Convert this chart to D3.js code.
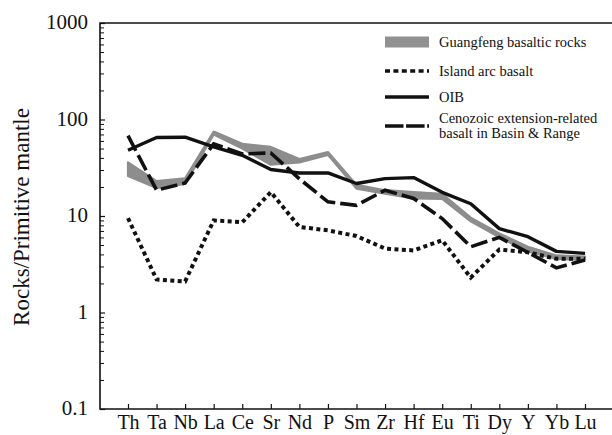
<!DOCTYPE html>
<html>
<head>
<meta charset="utf-8">
<script src="https://cdn.jsdelivr.net/npm/d3@7"></script>
<style>
  html, body { margin: 0; padding: 0; background: #fff; }
  svg { display: block; }
</style>
</head>
<body>
<svg id="chart" width="612" height="435" font-family="'Liberation Serif', 'Times New Roman', serif"></svg>
<script>
// Primitive-mantle normalised trace element patterns
const elements = ["Th","Ta","Nb","La","Ce","Sr","Nd","P","Sm","Zr","Hf","Eu","Ti","Dy","Y","Yb","Lu"];

// Guangfeng basaltic rocks: range of the sample group (upper / lower envelope)
const guangfengUpper = [36, 23, 24.5, 75, 56, 52, 39, 46, 21, 18.5, 17.7, 17, 9.6, 6.6, 4.8, 3.9, 3.8];
const guangfengLower = [26, 19.5, 21.5, 70, 50, 34, 36, 43, 19.2, 17, 15.2, 15, 8.8, 6.0, 4.3, 3.6, 3.5];

const islandArc = [9.5, 2.2, 2.1, 9.0, 8.6, 17.7, 7.7, 7.1, 6.2, 4.6, 4.4, 5.6, 2.3, 4.5, 4.2, 3.6, 3.6];
const oib       = [48, 65, 65.5, 52, 42.6, 30.3, 27.9, 28, 21.7, 24.4, 25, 17.6, 13.4, 7.4, 6.1, 4.3, 4.1];
const basinRange = [68, 18.5, 22, 56, 44, 45, 24.3, 14, 12.9, 18.5, 15.2, 9.4, 4.8, 6.0, 4.2, 2.9, 3.5];

const yMajorTicks = [0.1, 1, 10, 100, 1000];
const yTickLabels = ["0.1", "1", "10", "100", "1000"];

const legendItems = [
  { key: "band",   label: ["Guangfeng basaltic rocks"] },
  { key: "dotted", label: ["Island arc basalt"] },
  { key: "solid",  label: ["OIB"] },
  { key: "dashed", label: ["Cenozoic extension-related", "basalt in Basin & Range"] }
];

// ---- layout ----
const serif = "'Liberation Serif', 'Times New Roman', serif";
const svg = d3.select("#chart");
const plotLeft = 100, plotTop = 23, plotRight = 613, plotBottom = 409;
const ink = "#111";
const grey = "#8d8d8d";

const x = d3.scalePoint().domain(elements).range([plotLeft + 28, plotLeft + 485]);
const y = d3.scaleLog().domain([0.1, 1000]).range([plotBottom, plotTop]);

// minor ticks 2..9 in each decade
const minorTicks = [];
for (let d = 0.1; d < 1000; d *= 10) {
  for (let k = 2; k <= 9; k++) minorTicks.push(+(d * k).toPrecision(3));
}

// left axis, ticks pointing inward
const yAxis = svg.append("g").attr("transform", `translate(${plotLeft},0)`)
  .call(d3.axisLeft(y).tickValues(yMajorTicks)
        .tickFormat((d, i) => yTickLabels[i])
        .tickSizeInner(-5).tickSizeOuter(0).tickPadding(12));
yAxis.attr("font-family", serif).attr("font-size", 21);
yAxis.select(".domain").remove();
yAxis.selectAll("line").attr("stroke", ink).attr("stroke-width", 1.2);
yAxis.selectAll("text").attr("fill", ink).attr("dy", "0.28em");

const yMinor = svg.append("g").attr("transform", `translate(${plotLeft},0)`)
  .call(d3.axisLeft(y).tickValues(minorTicks).tickFormat("")
        .tickSizeInner(-4).tickSizeOuter(0));
yMinor.select(".domain").remove();
yMinor.selectAll("line").attr("stroke", ink).attr("stroke-width", 1);

// bottom axis with element names
const xAxis = svg.append("g").attr("transform", `translate(0,${plotBottom})`)
  .call(d3.axisBottom(x).tickSizeInner(-5).tickSizeOuter(0).tickPadding(6));
xAxis.attr("font-family", serif).attr("font-size", 20);
xAxis.select(".domain").remove();
xAxis.selectAll("line").attr("stroke", ink).attr("stroke-width", 1.2);
xAxis.selectAll("text").attr("fill", ink);

// frame (left, top, bottom)
svg.append("path")
  .attr("d", `M${plotRight},${plotTop}H${plotLeft}V${plotBottom}H${plotRight}`)
  .attr("fill", "none").attr("stroke", ink).attr("stroke-width", 1.6);

// y title
svg.append("text")
  .attr("transform", `translate(29,217) rotate(-90)`)
  .attr("text-anchor", "middle")
  .attr("font-family", serif)
  .attr("font-size", 23)
  .attr("fill", ink)
  .text("Rocks/Primitive mantle");

// ---- series ----
const band = d3.area()
  .x((d, i) => x(elements[i]))
  .y0((d, i) => y(guangfengLower[i]))
  .y1((d, i) => y(guangfengUpper[i]));

svg.append("path").datum(guangfengUpper)
  .attr("d", band)
  .attr("fill", grey).attr("stroke", grey).attr("stroke-width", 2.2)
  .attr("stroke-linejoin", "round");

const line = d3.line().x((d, i) => x(elements[i])).y(d => y(d));

svg.append("path").datum(islandArc).attr("d", line)
  .attr("fill", "none").attr("stroke", ink).attr("stroke-width", 4)
  .attr("stroke-dasharray", "4,3.4");

svg.append("path").datum(oib).attr("d", line)
  .attr("fill", "none").attr("stroke", ink).attr("stroke-width", 3.4)
  .attr("stroke-linejoin", "round");

svg.append("path").datum(basinRange).attr("d", line)
  .attr("fill", "none").attr("stroke", ink).attr("stroke-width", 3.6)
  .attr("stroke-dasharray", "17,5");

// ---- legend ----
const lg = svg.append("g").attr("font-family", serif).attr("font-size", 14.5).attr("fill", ink);
const lx0 = 385, lx1 = 429, tx = 439;
const rowY = [42, 71, 97, 126];

legendItems.forEach((item, i) => {
  const cy = rowY[i];
  if (item.key === "band") {
    lg.append("rect").attr("x", lx0).attr("y", cy - 5.5).attr("width", lx1 - lx0).attr("height", 11)
      .attr("fill", "#919191");
  } else {
    const l = lg.append("line").attr("x1", lx0).attr("x2", lx1).attr("y1", cy).attr("y2", cy)
      .attr("stroke", ink);
    if (item.key === "dotted") l.attr("stroke-width", 3.6).attr("stroke-dasharray", "5,3.4");
    if (item.key === "solid") l.attr("stroke-width", 3.4);
    if (item.key === "dashed") l.attr("stroke-width", 3.6).attr("stroke-dasharray", "18.5,2.6");
  }
  if (item.label.length === 1) {
    lg.append("text").attr("x", tx).attr("y", cy + 5).text(item.label[0]);
  } else {
    lg.append("text").attr("x", tx).attr("y", cy - 3).text(item.label[0]);
    lg.append("text").attr("x", tx).attr("y", cy + 12).text(item.label[1]);
  }
});
</script>
</body>
</html>
